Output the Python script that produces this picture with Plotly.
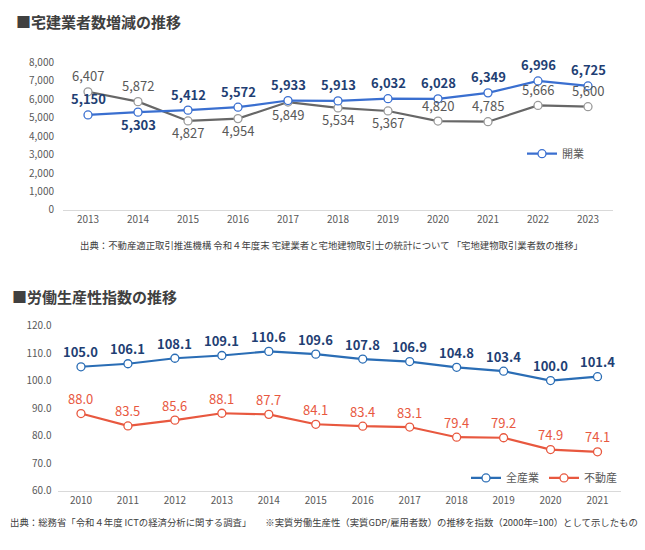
import plotly.graph_objects as go

# ---- data: 宅建業者数増減の推移 ----
years_top = ["2013", "2014", "2015", "2016", "2017", "2018", "2019", "2020", "2021", "2022", "2023"]
kaigyo = [5150, 5303, 5412, 5572, 5933, 5913, 6032, 6028, 6349, 6996, 6725]
haigyo = [6407, 5872, 4827, 4954, 5849, 5534, 5367, 4820, 4785, 5666, 5600]

# ---- data: 労働生産性指数の推移 ----
years_bot = ["2010", "2011", "2012", "2013", "2014", "2015", "2016", "2017", "2018", "2019", "2020", "2021"]
zen_sangyo = [105.0, 106.1, 108.1, 109.1, 110.6, 109.6, 107.8, 106.9, 104.8, 103.4, 100.0, 101.4]
fudosan = [88.0, 83.5, 85.6, 88.1, 87.7, 84.1, 83.4, 83.1, 79.4, 79.2, 74.9, 74.1]

# label above (+1) or below (-1) the marker
kaigyo_side = [1, -1, 1, 1, 1, 1, 1, 1, 1, 1, 1]
haigyo_side = [1, 1, -1, -1, -1, -1, -1, 1, 1, 1, 1]

FONT = "Noto Sans CJK JP"
W, H = 645, 550

BLUE_TOP = "#3A6FD0"
GRAY = "#676767"
BLUE_BOT = "#2A6DB5"
RED = "#E8583F"
NAVY = "#1F3F74"

fig = go.Figure()

# top chart
fig.add_trace(go.Scatter(
    x=years_top, y=haigyo, mode="lines+markers", name="廃業",
    line=dict(color=GRAY, width=2.2),
    marker=dict(size=8, color="white", line=dict(color="#9A9A9A", width=1.3)),
    xaxis="x", yaxis="y", showlegend=False
))
fig.add_trace(go.Scatter(
    x=years_top, y=kaigyo, mode="lines+markers", name="開業",
    line=dict(color=BLUE_TOP, width=2.2),
    marker=dict(size=8, color="white", line=dict(color=BLUE_TOP, width=1.3)),
    xaxis="x", yaxis="y", legend="legend"
))

# bottom chart
fig.add_trace(go.Scatter(
    x=years_bot, y=zen_sangyo, mode="lines+markers", name="全産業",
    line=dict(color=BLUE_BOT, width=2.2),
    marker=dict(size=8, color="white", line=dict(color=BLUE_BOT, width=1.3)),
    xaxis="x2", yaxis="y2", legend="legend2"
))
fig.add_trace(go.Scatter(
    x=years_bot, y=fudosan, mode="lines+markers", name="不動産",
    line=dict(color=RED, width=2.2),
    marker=dict(size=8, color="white", line=dict(color=RED, width=1.3)),
    xaxis="x2", yaxis="y2", legend="legend2"
))

# data labels (x given as category index so numeric-looking years are not misread)
annotations = []
for i, (v, s) in enumerate(zip(kaigyo, kaigyo_side)):
    annotations.append(dict(x=i, y=v, xref="x", yref="y", text="<b>{:,}</b>".format(v),
                            showarrow=False, yshift=16 if s > 0 else -12,
                            font=dict(size=13, color=NAVY, family=FONT)))
for i, (v, s) in enumerate(zip(haigyo, haigyo_side)):
    annotations.append(dict(x=i, y=v, xref="x", yref="y", text="{:,}".format(v),
                            showarrow=False, yshift=16 if s > 0 else -12,
                            font=dict(size=13, color="#595959", family=FONT)))
for i, v in enumerate(zen_sangyo):
    annotations.append(dict(x=i, y=v, xref="x2", yref="y2", text="<b>{:.1f}</b>".format(v),
                            showarrow=False, yshift=15,
                            font=dict(size=13, color=NAVY, family=FONT)))
for i, v in enumerate(fudosan):
    annotations.append(dict(x=i, y=v, xref="x2", yref="y2", text="{:.1f}".format(v),
                            showarrow=False, yshift=15,
                            font=dict(size=13, color=RED, family=FONT)))

# titles and sources
annotations += [
    dict(x=14 / W, y=1 - 13 / H, xref="paper", yref="paper", xanchor="left", yanchor="middle",
         text="<b>■宅建業者数増減の推移</b>", showarrow=False,
         font=dict(size=15, color="#404040", family=FONT)),
    dict(x=10 / W, y=1 - 296 / H, xref="paper", yref="paper", xanchor="left", yanchor="middle",
         text="<b>■労働生産性指数の推移</b>", showarrow=False,
         font=dict(size=15, color="#404040", family=FONT)),
    dict(x=78 / W, y=1 - 243 / H, xref="paper", yref="paper", xanchor="left", yanchor="middle",
         text="出典：不動産適正取引推進機構 令和４年度末 宅建業者と宅地建物取引士の統計について 「宅地建物取引業者数の推移」",
         showarrow=False, font=dict(size=9.4, color="#404040", family=FONT)),
    dict(x=8 / W, y=1 - 528 / H, xref="paper", yref="paper", xanchor="left", yanchor="middle",
         text="出典：総務省「令和４年度 ICTの経済分析に関する調査」　　※実質労働生産性（実質GDP/雇用者数）の推移を指数（2000年=100）として示したもの",
         showarrow=False, font=dict(size=9.4, color="#404040", family=FONT)),
]

axis_common = dict(showgrid=False, zeroline=False, ticks="",
                   tickfont=dict(size=10, color="#595959", family=FONT))

fig.update_layout(
    width=W, height=H,
    margin=dict(l=0, r=0, t=0, b=0),
    paper_bgcolor="white", plot_bgcolor="white",
    font=dict(family=FONT),
    xaxis=dict(domain=[63 / W, 613 / W], anchor="y", type="category", showline=True,
               linecolor="#D9D9D9", linewidth=1, range=[-0.5, 10.5], **axis_common),
    yaxis=dict(domain=[1 - 207 / H, 1 - 55 / H], anchor="x", range=[0, 8000], dtick=1000,
               tickformat=",", showline=False, ticklabelstandoff=8, **axis_common),
    xaxis2=dict(domain=[57.5 / W, 621 / W], anchor="y2", type="category", showline=True,
                linecolor="#D9D9D9", linewidth=1, range=[-0.5, 11.5], **axis_common),
    yaxis2=dict(domain=[1 - 496 / H, 1 - 326 / H], anchor="x2", range=[60, 120], dtick=10,
                tickformat=".1f", showline=False, ticklabelstandoff=5, **axis_common),
    legend=dict(x=522 / W, y=1 - 149 / H, xanchor="left", yanchor="middle",
                bgcolor="rgba(0,0,0,0)", font=dict(size=11, color="#595959", family=FONT),
                itemwidth=30),
    legend2=dict(x=622 / W, y=1 - 483 / H, xanchor="right", yanchor="middle",
                 orientation="h", bgcolor="rgba(0,0,0,0)",
                 font=dict(size=11, color="#595959", family=FONT), itemwidth=30),
    annotations=annotations,
)

# pin the plot to the top-left corner of the page
pin = ("document.body.style.margin='0';"
       "var gd=document.getElementById('{plot_id}');"
       "gd.style.position='absolute';gd.style.top='0';gd.style.left='0';")
fig.write_html("out.html", config={"displayModeBar": False}, post_script=pin)
